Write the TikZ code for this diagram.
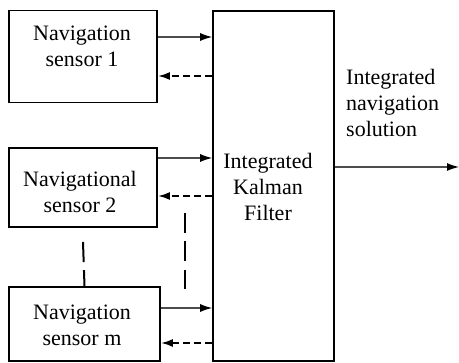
\documentclass[tikz,border=0pt]{standalone}
\usepackage{fontspec}
\setmainfont{Liberation Serif}
\usetikzlibrary{arrows.meta}
\begin{document}
\begin{tikzpicture}[x=1pt,y=-1pt,
  box/.style={draw, line width=1.8pt, inner sep=0pt},
  txt/.style={align=center, font=\fontsize{22}{26}\selectfont, inner sep=0pt},
  sol/.style={draw=black!70, line width=1.2pt, -{Latex[length=12pt,width=8pt,color=black]}},
  dsh/.style={line width=2pt, dash pattern=on 7pt off 4pt, -{Latex[length=12pt,width=8pt]}},
  vdsh/.style={line width=2pt, dash pattern=on 20pt off 8.5pt}]
\useasboundingbox (0,0) rectangle (459,363);
% boxes
\node[box, minimum width=148pt, minimum height=92pt] (b1) at (83,56.5) {};
\node[box, minimum width=148pt, minimum height=79pt] (b2) at (83,187.5) {};
\node[box, minimum width=151pt, minimum height=74pt] (bm) at (84.5,324) {};
\node[box, line width=1.6pt, minimum width=121pt, minimum height=350pt] (kf) at (273.5,186) {};
% texts
\node[txt] (t1) at (82,46) {Navigation\\sensor 1};
\node[txt] (t2) at (80,192) {Navigational\\sensor 2};
\node[txt] (tm) at (82,325) {Navigation\\sensor m};
\node[txt] (tk) at (268,186.5) {Integrated\\Kalman\\Filter};
\node[txt, align=left, anchor=west] (tout) at (346,103) {Integrated\\navigation\\solution};
% arrow levels
\coordinate (s1) at (0,37);  \coordinate (d1) at (0,76);
\coordinate (s2) at (0,158); \coordinate (d2) at (0,196);
\coordinate (sm) at (0,308); \coordinate (dm) at (0,343);
\coordinate (out) at (459,167);
\draw[sol] (b1.east |- s1) -- (kf.west |- s1);
\draw[dsh] (kf.west |- d1) -- (b1.east |- d1);
\draw[sol] (b2.east |- s2) -- (kf.west |- s2);
\draw[dsh] (kf.west |- d2) -- (b2.east |- d2);
\draw[sol] (bm.east |- sm) -- (kf.west |- sm);
\draw[dsh] (kf.west |- dm) -- (bm.east |- dm);
\draw[sol] (kf.east |- out) -- (out);
% vertical dashed
\coordinate (u1) at (83,242);
\coordinate (v1) at (185,213);
\coordinate (v2) at (185,289);
\draw[line width=2pt, dash pattern=on 16pt off 8pt on 21pt off 8pt] (bm.north) -- (u1);
\draw[vdsh] (v1) -- (v2);
\end{tikzpicture}
\end{document}
